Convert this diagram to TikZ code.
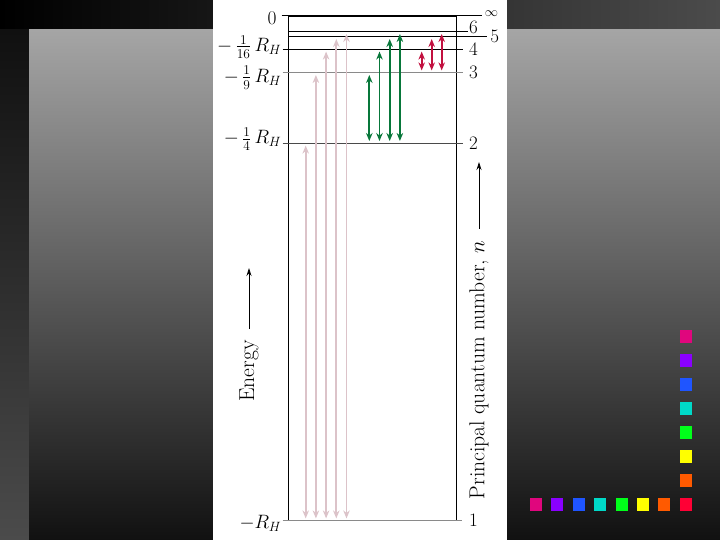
\documentclass[tikz,border=0pt]{standalone}
\usepackage{amsmath}
\usepackage{xcolor}
\usepackage{tikz}
\usetikzlibrary{positioning, arrows.meta}
\definecolor{bandgray}{HTML}{4B4B4B}
\definecolor{stripdark}{HTML}{101010}
\definecolor{slidelight}{HTML}{A5A5A5}
\definecolor{slidedark}{HTML}{111111}
\definecolor{levgray}{HTML}{8A8A8A}
\definecolor{levdark}{HTML}{4A4A4A}
\definecolor{lymanpink}{HTML}{DCC3C9}
\definecolor{balmergreen}{HTML}{08773A}
\definecolor{paschenred}{HTML}{C2103F}
\definecolor{sqmagenta}{HTML}{E0067D}
\definecolor{sqviolet}{HTML}{8A00FF}
\definecolor{sqblue}{HTML}{1F55FF}
\definecolor{sqcyan}{HTML}{00D9C8}
\definecolor{sqgreen}{HTML}{00FF1A}
\definecolor{sqyellow}{HTML}{FFFF00}
\definecolor{sqorange}{HTML}{FF5A00}
\definecolor{sqred}{HTML}{FF0035}
\begin{document}
\begin{tikzpicture}[
  x=1pt, y=-1pt,
  level/.style={line width=1pt},
  boxline/.style={line width=0.8pt, draw=black},
  elab/.style={inner sep=0pt, font=\fontsize{17.28}{20}\selectfont, scale=1.12, anchor=base east},
  nlab/.style={inner sep=0pt, font=\fontsize{17.28}{20}\selectfont, scale=1.1, anchor=west},
  axlab/.style={rotate=90, inner xsep=9pt, inner ysep=0pt,
    font=\fontsize{17.28}{20}\selectfont, scale=1.25, anchor=east},
  axarr/.style={-{Stealth[length=8pt, width=5pt]}, line width=0.8pt},
  trans/.style={{Stealth[length=8pt, width=6.5pt]}-{Stealth[length=8pt, width=6.5pt]},
    line width=1.8pt, shorten <=2.3pt, shorten >=2.3pt},
  lyman/.style={trans, draw=lymanpink},
  balmer/.style={trans, draw=balmergreen},
  paschen/.style={trans, draw=paschenred},
]

% Fond de la diapositive
\useasboundingbox (0,0) rectangle (720,540);
\shade[left color=black, right color=bandgray] (0,0) rectangle (720,30);
\shade[top color=stripdark, bottom color=bandgray] (0,30) rectangle (29,540);
\shade[top color=slidelight, bottom color=slidedark] (29,30) rectangle (720,540);
\fill[white] (213,0) rectangle (507,540);

% Carres de couleur
\foreach \c [count=\i from 0] in {sqmagenta,sqviolet,sqblue,sqcyan,sqgreen,sqyellow,sqorange,sqred}
  \fill[\c] (680,330.2+24*\i) rectangle ++(12,13);
\foreach \c [count=\i from 0] in {sqmagenta,sqviolet,sqblue,sqcyan,sqgreen,sqyellow,sqorange}
  \fill[\c] (530+21.4*\i,498.2) rectangle ++(12,13);

% Cadre
\draw[boxline] (288.7,16) rectangle (456.7,520.7);

% Niveaux d'energie
\foreach \n/\y/\xa/\xb/\col/\lw in {0/16/281.7/481.7/black/1, 6/31.7/288.7/468/black/1,
    5/36.7/288.7/486.7/black/1.6, 4/49.3/282.7/463/black/1, 3/72.7/282.7/463/levgray/1,
    2/143.3/282.7/463/levdark/1, 1/520.7/282.7/462/levgray/1} {
  \coordinate (lv\n w) at (\xa,\y);
  \coordinate (lv\n e) at (\xb,\y);
  \draw[level, draw=\col, line width=\lw pt] (lv\n w) -- (lv\n e);
}

% Nombres quantiques
\node[nlab, right=3pt of lv0e, yshift=2pt, font=\fontsize{12}{14}\selectfont] (ninf) {$\infty$};
\node[nlab, right=1pt of lv6e, yshift=3.5pt] (n6) {6};
\node[nlab, right=3.5pt of lv5e] (n5) {5};
\node[nlab, right=6pt of lv4e] (n4) {4};
\node[nlab, right=6pt of lv3e] (n3) {3};
\node[nlab, right=6pt of lv2e] (n2) {2};
\node[nlab, right=7pt of lv1e] (n1) {1};

% Energies
\node[elab] (e0) at ([xshift=-5pt, yshift=-8.5pt]lv0w) {0};
\node[elab] (e4) at ([xshift=-1pt, yshift=-2.4pt]lv4w) {$-\,\tfrac{1}{16}\,R_H$};
\node[elab] (e3) at ([xshift=-1pt, yshift=-9.8pt]lv3w) {$-\,\tfrac{1}{9}\,R_H$};
\node[elab] (e2) at ([xshift=-1pt, yshift=-0.5pt]lv2w) {$-\,\tfrac{1}{4}\,R_H$};
\node[elab] (e1) at ([xshift=-1pt, yshift=-7.5pt]lv1w) {$-R_H$};

% Axes
\node[axlab] (energy) at (249,329) {Energy};
\coordinate[above=61pt of energy.east] (energytip);
\draw[axarr] (energy.east) -- (energytip);
\node[axlab] (quantum) at (479,229) {Principal quantum number, $n$};
\coordinate[above=67pt of quantum.east] (quantumtip);
\draw[axarr] (quantum.east) -- (quantumtip);

% Transitions vers n = 1
\foreach \n [count=\i from 0] in {2,...,6} {
  \coordinate (ly\n) at (305.7+10.2*\i,300);
  \draw[lyman] (ly\n |- lv1w) -- (ly\n |- lv\n w);
}
% Transitions vers n = 2
\foreach \n [count=\i from 0] in {3,...,6} {
  \coordinate (ba\n) at (369.3+10.2*\i,100);
  \draw[balmer] (ba\n |- lv2w) -- (ba\n |- lv\n w);
}
% Transitions vers n = 3
\foreach \n [count=\i from 0] in {4,...,6} {
  \coordinate (pa\n) at (421.7+10*\i,60);
  \draw[paschen] (pa\n |- lv3w) -- (pa\n |- lv\n w);
}

\end{tikzpicture}
\end{document}
